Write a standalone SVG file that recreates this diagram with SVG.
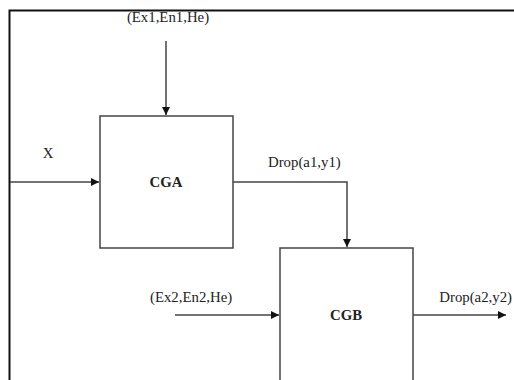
<svg xmlns="http://www.w3.org/2000/svg" width="514" height="380" viewBox="0 0 514 380">
<style>
text{font-family:"Liberation Serif","Times New Roman",serif;font-size:14.8px;fill:#222}
.b{font-weight:bold}
.box{fill:#fff;stroke:#444;stroke-width:1.5}
.ln{fill:none;stroke:#444;stroke-width:1.5}
</style>
<defs>
<marker id="ah" viewBox="0 0 10 10" refX="10" refY="5" markerWidth="8" markerHeight="8" markerUnits="userSpaceOnUse" orient="auto">
<path d="M0,0L10,5L0,10z" fill="#111"/>
</marker>
</defs>
<rect x="0" y="0" width="514" height="380" fill="#fff"/>
<path d="M9.5,380V10.5H514" fill="none" stroke="#111" stroke-width="2"/>
<g id="CGA"><rect class="box" x="100" y="116" width="133" height="132"/><text class="b" x="166" y="187" text-anchor="middle">CGA</text></g>
<g id="CGB"><rect class="box" x="280" y="248" width="133" height="140"/><text class="b" x="346" y="320" text-anchor="middle">CGB</text></g>
<g id="connectors">
<line class="ln" x1="166" y1="41" x2="166" y2="115" marker-end="url(#ah)"/>
<line class="ln" x1="10" y1="182" x2="99" y2="182" marker-end="url(#ah)"/>
<polyline class="ln" points="233,182 347,182 347,247" marker-end="url(#ah)"/>
<line class="ln" x1="175" y1="315" x2="279" y2="315" marker-end="url(#ah)"/>
<line class="ln" x1="413" y1="315" x2="506" y2="315" marker-end="url(#ah)"/>
</g>
<g id="labels">
<text x="168" y="22" text-anchor="middle">(Ex1,En1,He)</text>
<text x="48" y="158" text-anchor="middle">X</text>
<text x="268" y="167">Drop(a1,y1)</text>
<text x="150" y="302">(Ex2,En2,He)</text>
<text x="512" y="302" text-anchor="end" font-size="14.2">Drop(a2,y2)</text>
</g>
</svg>
